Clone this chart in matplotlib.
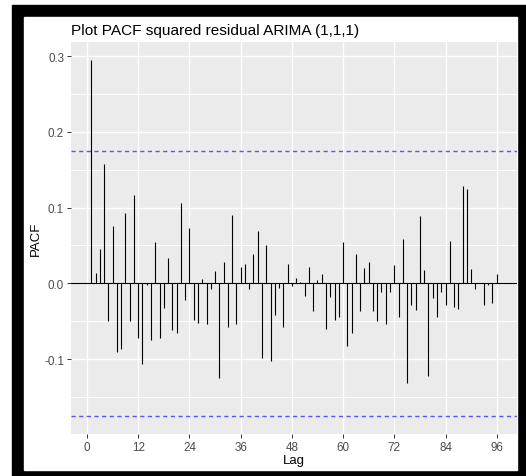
import matplotlib.pyplot as plt
import matplotlib.patches as patches
import numpy as np

# Lags and PACF values of squared residuals
lags = np.arange(1, 97)
pacf = [0.295, 0.014, 0.045, 0.157, -0.050, 0.076, -0.091, -0.086, 0.093, -0.050,
        0.116, -0.072, -0.106, -0.002, -0.075, 0.054, -0.072, -0.033, 0.034, -0.061,
        -0.065, 0.106, -0.022, 0.073, -0.048, -0.052, 0.006, -0.053, -0.008, 0.017,
        -0.125, 0.028, -0.057, 0.090, -0.053, 0.022, 0.026, -0.007, 0.039, 0.069,
        -0.099, 0.051, -0.103, -0.042, -0.006, -0.057, 0.026, -0.004, 0.007, 0.002,
        -0.017, 0.021, -0.036, 0.005, 0.012, -0.060, -0.018, -0.048, -0.044, 0.054,
        -0.083, -0.066, 0.039, -0.036, 0.020, 0.028, -0.036, -0.050, -0.011, -0.054,
        -0.012, 0.024, -0.044, 0.059, -0.131, -0.028, -0.035, 0.089, 0.018, -0.122,
        -0.019, -0.045, -0.011, -0.028, 0.056, -0.031, -0.034, 0.129, 0.125, 0.019,
        -0.008, 0.001, -0.028, -0.002, -0.026, 0.013]
conf_limit = 0.1753

x_ticks = [0, 12, 24, 36, 48, 60, 72, 84, 96]
y_ticks = [-0.1, 0.0, 0.1, 0.2, 0.3]
y_tick_labels = ["-0.1", "0.0", "0.1", "0.2", "0.3"]

plt.rcParams['font.family'] = ['Liberation Sans', 'DejaVu Sans']

W, H = 526, 477
fig = plt.figure(figsize=(W / 100, H / 100), dpi=100)
fig.patch.set_facecolor('white')

# black screenshot frame around the plot
fig.patches.append(patches.Rectangle((12 / W, 0), 514 / W, 471 / H,
                                     transform=fig.transFigure, color='black', zorder=0))
fig.patches.append(patches.Rectangle((24 / W, 6 / H), 493 / W, 453 / H,
                                     transform=fig.transFigure, color='white', zorder=0))

ax = fig.add_axes([71 / W, 42 / H, 446 / W, 391.7 / H])
ax.set_zorder(5)
ax.set_facecolor('#EBEBEB')
for s in ax.spines.values():
    s.set_visible(False)

# grid like ggplot
for y in y_ticks:
    ax.axhline(y, color='white', lw=1.0, zorder=1)
for y in np.array(y_ticks[:-1]) + 0.05:
    ax.axhline(y, color='white', lw=0.7, zorder=1)
ax.axhline(-0.15, color='white', lw=0.7, zorder=1)
for x in x_ticks:
    ax.axvline(x, color='white', lw=1.0, zorder=1)

ax.vlines(lags, 0, pacf, colors='black', lw=0.8, zorder=3)
ax.axhline(0, color='black', lw=0.8, zorder=3)
ax.axhline(conf_limit, color='#5555ff', lw=1.0, ls=(0, (3, 2.5)), zorder=2)
ax.axhline(-conf_limit, color='#5555ff', lw=1.0, ls=(0, (3, 2.5)), zorder=2)

ax.set_xlim(-3.75, 100.75)
ax.set_ylim(-0.1988, 0.3182)
ax.set_xticks(x_ticks)
ax.set_yticks(y_ticks)
ax.set_yticklabels(y_tick_labels)
ax.tick_params(axis='both', colors='#333333', labelcolor='#4D4D4D',
               labelsize=8.4, length=3, width=0.7, pad=2)

ax.set_xlabel("Lag", fontsize=9.5, color='black')
ax.set_ylabel("PACF", fontsize=9.5, color='black')
ax.xaxis.set_label_coords(0.5, -0.052)
ax.yaxis.set_label_coords(-0.066, 0.5)

fig.text(71 / W, (H - 31.5) / H, "Plot PACF squared residual ARIMA (1,1,1)",
         fontsize=11.1, color='black', ha='left', va='center')

plt.savefig("out.png", dpi=100)
plt.close()
